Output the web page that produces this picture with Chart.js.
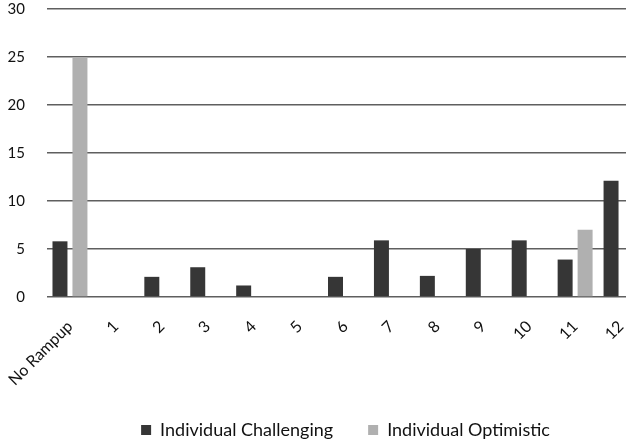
<!DOCTYPE html>
<html>
<head>
<meta charset="utf-8">
<script src="https://cdn.jsdelivr.net/npm/chart.js@4/dist/chart.umd.min.js"></script>
<style>
  html, body { margin: 0; padding: 0; background: #fff; }
  #frame { width: 626px; height: 440px; overflow: hidden; position: relative; }
  #wrap { width: 644px; height: 449px; position: absolute; left: 0; top: 0; }
</style>
</head>
<body>
<div id="frame"><div id="wrap"><canvas id="c"></canvas></div></div>
<script>
// Ramp-up scenarios
const categories = ['No Rampup', '1', '2', '3', '4', '5', '6', '7', '8', '9', '10', '11', '12'];
const challenging = [5.8, 0, 2.1, 3.1, 1.2, 0, 2.1, 5.9, 2.2, 5.0, 5.9, 3.9, 12.1];
const optimistic  = [25, 0, 0, 0, 0, 0, 0, 0, 0, 0, 0, 7.0, 0];
const yTicks = [0, 5, 10, 15, 20, 25, 30];

const font = 'Lato, "Open Sans", sans-serif';

new Chart(document.getElementById('c'), {
  type: 'bar',
  data: {
    labels: categories,
    datasets: [
      { label: 'Individual Challenging', data: challenging, backgroundColor: '#363636' },
      { label: 'Individual Optimistic', data: optimistic, backgroundColor: '#b0b0b0' }
    ]
  },
  options: {
    responsive: true,
    maintainAspectRatio: false,
    animation: false,
    datasets: { bar: { categoryPercentage: 0.87, barPercentage: 0.75 } },
    layout: { padding: 0 },
    plugins: {
      tooltip: { enabled: false },
      legend: {
        position: 'bottom',
        fullSize: false,          // centre the legend under the plot area
        labels: {
          boxWidth: 10,
          boxHeight: 10,
          padding: 35,
          color: '#111',
          font: { family: font, size: 18 }
        }
      }
    },
    scales: {
      x: {
        grid: { display: false },
        border: { display: false },
        ticks: {
          color: '#111',
          font: { family: font, size: 16 },
          minRotation: 45,
          maxRotation: 45,
          padding: 12
        },
        afterFit(scale) {
          scale.height = 89;
          scale.paddingLeft = 0;
          scale.paddingRight = 0;
        }
      },
      y: {
        min: 0,
        max: yTicks[yTicks.length - 1],
        afterBuildTicks(scale) { scale.ticks = yTicks.map(v => ({ value: v })); },
        grid: { color: '#5f5f5f', lineWidth: 1.5, drawTicks: false },
        border: { display: false },
        ticks: {
          color: '#111',
          font: { family: font, size: 15 },
          padding: 22
        },
        afterFit(scale) {
          scale.width = 47;
          scale.paddingTop = 9;
          scale.paddingBottom = 9;
        }
      }
    }
  }
});
</script>
</body>
</html>
